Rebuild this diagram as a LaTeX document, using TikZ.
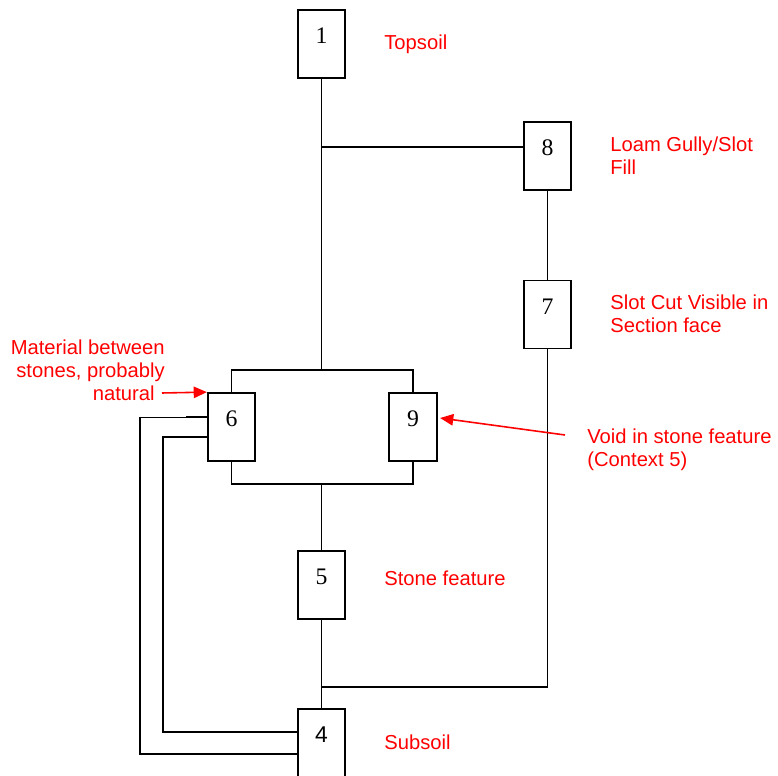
\documentclass[tikz,border=0pt]{standalone}
\usepackage{fontspec}
\setmainfont{Liberation Serif}
\newfontfamily\arialfont{Liberation Sans}
\usetikzlibrary{positioning, arrows.meta, calc}
\definecolor{notered}{HTML}{FF0000}
\tikzset{
  ctx/.style={draw, line width=1pt, minimum width=0.95cm, inner xsep=0pt, inner ysep=0pt,
              text height=0.68cm, text depth=0.68cm, font=\fontsize{13.5}{15}\selectfont},
  note/.style={text=notered, font=\arialfont\fontsize{11.5}{13}\selectfont, align=left, inner sep=0pt},
  notearrow/.style={draw=notered, line width=0.9pt, -{Triangle[length=7.5pt,width=6.5pt]}},
  link/.style={line width=0.9pt}
}

\begin{document}
\begin{tikzpicture}[x=0.02cm, y=-0.02cm]
    \useasboundingbox (0,0) rectangle (778,776);
    % contexts
    \node[ctx] (n1) at (321.5,44) {1};
    \node[ctx] (n8) at (547.5,156) {8};
    \node[ctx] (n7) at (547.5,314.5) {7};
    \node[ctx] (n6) at (231.5,427) {6};
    \node[ctx] (n9) at (413,427) {9};
    \node[ctx] (n5) at (321.5,585) {5};
    \node[ctx, font=\arialfont\fontsize{13}{15}\selectfont] (n4) at (321.5,743) {4};

    % junctions
    \coordinate (j8) at (321.5,147);
    \coordinate (bt) at (321.5,370);
    \coordinate (bb) at (321.5,484);
    \coordinate (j7) at (321.5,687);
    \coordinate (inner) at (163,732);
    \coordinate (outer) at (140,754);
    \coordinate (stub) at (186,417);

    \draw[link] (n1) -- (bt);
    \draw[link] (j8) -- (n8.west |- j8);
    \draw[link] (n8) -- (n7);
    \draw[link] (n7) |- (j7);
    \draw[link] (n6.north) |- (bt) -| (n9.north);
    \draw[link] (n6.south) |- (bb) -| (n9.south);
    \draw[link] (bb) -- (n5);
    \draw[link] (n5) -- (n4);
    \draw[link] ([yshift=-0.2cm]n6.west) -| (inner) -- (n4.west |- inner);
    \draw[link] ([yshift=0.2cm]n6.west) -- (stub);
    \draw[line width=0.5pt] (stub) -- (outer |- stub);
    \draw[link] (outer |- stub) |- (n4.west |- outer);

    % notes
    \node[note, anchor=west] (topsoil) at (384,44) {Topsoil};
    \node[note, anchor=west] (loam) at (610,156) {Loam Gully/Slot\\Fill};
    \node[note, anchor=west] (slotcut) at (610,313.5) {Slot Cut Visible in\\Section face};
    \node[note, anchor=west] (void) at (587,449.5) {Void in stone feature\\(Context 5)};
    \node[note, anchor=west] (stone) at (384,578) {Stone feature};
    \node[note, anchor=west] (subsoil) at (384,742) {Subsoil};
    \node[note, anchor=east, align=right] (material) at (165,370)
      {Material between\\stones, probably\\natural\hspace*{0.2cm}};

    \coordinate (mattail) at (162,393);
    \coordinate (voidtail) at (565,435);
    \draw[notearrow] (mattail) -- (n6.north west);
    \draw[notearrow] (voidtail) -- ([xshift=0.05cm,yshift=0.18cm]n9.east);
\end{tikzpicture}
\end{document}
